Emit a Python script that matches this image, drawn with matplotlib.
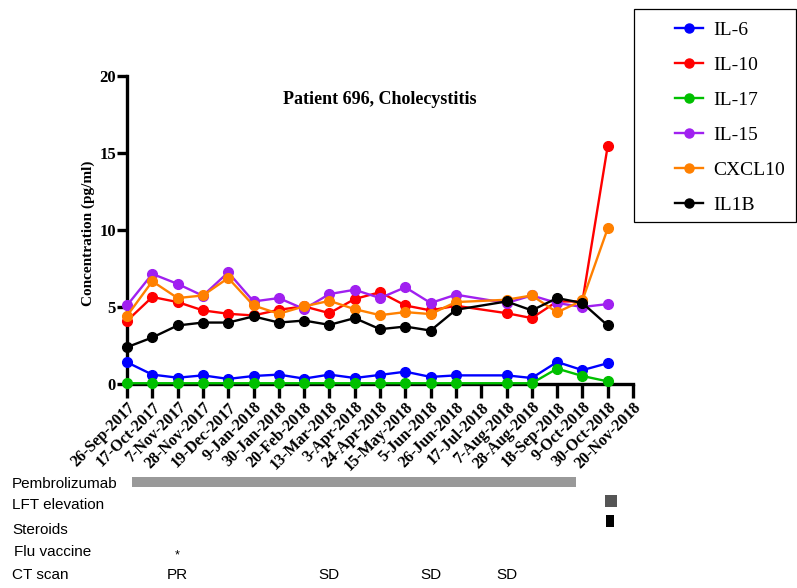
import matplotlib
matplotlib.use("Agg")
import matplotlib.pyplot as plt
import matplotlib.dates as mdates
from matplotlib.lines import Line2D
from matplotlib.patches import Rectangle
from matplotlib.transforms import blended_transform_factory
import pandas as pd

# ---------------- data ----------------
sample_dates = ['2017-09-26', '2017-10-17', '2017-11-07', '2017-11-28', '2017-12-19',
                '2018-01-09', '2018-01-30', '2018-02-20', '2018-03-13', '2018-04-03',
                '2018-04-24', '2018-05-15', '2018-06-05', '2018-06-26', '2018-08-07',
                '2018-08-28', '2018-09-18', '2018-10-09', '2018-10-30']

il6 = [1.41, 0.61, 0.41, 0.56, 0.33, 0.52, 0.61, 0.35, 0.61, 0.39,
       0.59, 0.80, 0.46, 0.56, 0.56, 0.39, 1.43, 0.90, 1.35]
il10 = [4.10, 5.65, 5.32, 4.78, 4.56, 4.45, 4.82, 5.04, 4.60, 5.52,
        5.96, 5.10, 4.78, 5.08, 4.60, 4.28, 5.36, 5.36, 15.45]
il17 = [0.05, 0.05, 0.05, 0.05, 0.05, 0.05, 0.05, 0.05, 0.05, 0.05,
        0.05, 0.05, 0.05, 0.05, 0.05, 0.05, 1.00, 0.52, 0.17]
il15 = [5.10, 7.15, 6.50, 5.73, 7.25, 5.36, 5.58, 4.87, 5.84, 6.12,
        5.58, 6.28, 5.26, 5.80, 5.26, 5.75, 5.26, 5.00, 5.19]
cxcl10 = [4.42, 6.67, 5.58, 5.75, 6.88, 5.10, 4.56, 5.04, 5.40, 4.86,
          4.47, 4.67, 4.54, 5.32, 5.47, 5.75, 4.65, 5.43, 10.10]
il1b = [2.39, 3.02, 3.80, 3.99, 3.99, 4.39, 3.99, 4.12, 3.84, 4.28,
        3.56, 3.73, 3.47, 4.82, 5.36, 4.78, 5.58, 5.26, 3.80]

series_names = ['IL-6', 'IL-10', 'IL-17', 'IL-15', 'CXCL10', 'IL1B']
series_values = [il6, il10, il17, il15, cxcl10, il1b]
series_colors = ['#0000FF', '#FF0000', '#00C000', '#A020F0', '#FF8000', '#000000']

tick_dates = ['2017-09-26', '2017-10-17', '2017-11-07', '2017-11-28', '2017-12-19',
              '2018-01-09', '2018-01-30', '2018-02-20', '2018-03-13', '2018-04-03',
              '2018-04-24', '2018-05-15', '2018-06-05', '2018-06-26', '2018-07-17',
              '2018-08-07', '2018-08-28', '2018-09-18', '2018-10-09', '2018-10-30',
              '2018-11-20']
tick_labels = ['26-Sep-2017', '17-Oct-2017', '7-Nov-2017', '28-Nov-2017', '19-Dec-2017',
               '9-Jan-2018', '30-Jan-2018', '20-Feb-2018', '13-Mar-2018', '3-Apr-2018',
               '24-Apr-2018', '15-May-2018', '5-Jun-2018', '26-Jun-2018', '17-Jul-2018',
               '7-Aug-2018', '28-Aug-2018', '18-Sep-2018', '9-Oct-2018', '30-Oct-2018',
               '20-Nov-2018']
y_ticks = [0, 5, 10, 15, 20]

# timeline events
pembro_start, pembro_end = '2017-09-30', '2018-10-04'
lft_start, lft_end = '2018-10-28', '2018-11-07'
steroid_start, steroid_end = '2018-10-29', '2018-11-04'
flu_dates = ['2017-11-07']
ct_dates = ['2017-11-07', '2018-03-13', '2018-06-05', '2018-08-07']
ct_results = ['PR', 'SD', 'SD', 'SD']
row_labels = ['Pembrolizumab', 'LFT elevation', 'Steroids', 'Flu vaccine', 'CT scan']

# ---------------- figure ----------------
W, H = 797, 588
fig = plt.figure(figsize=(W / 100, H / 100), dpi=100)

def fx(px):
    return px / W

def fy(py):
    return 1 - py / H

ax_l, ax_r, ax_t, ax_b = 127, 633, 76, 384
ax = fig.add_axes([fx(ax_l), fy(ax_b), fx(ax_r - ax_l), (ax_b - ax_t) / H])

serif = 'Liberation Serif'
sans = 'Liberation Sans'

x = pd.to_datetime(sample_dates)
order = [5, 4, 3, 2, 0, 1]  # drawing order (IL1B first, IL-10 last)
for k in order:
    ax.plot(x, series_values[k], color=series_colors[k], lw=1.7, marker='o',
            markersize=7, clip_on=False, zorder=3 + k * 0.1)

tdates = pd.to_datetime(tick_dates)
ax.set_xlim(tdates[0], tdates[-1])
ax.set_ylim(0, 20)
ax.set_xticks(tdates)
ax.set_xticklabels(tick_labels, rotation=45, ha='right', va='top',
                   rotation_mode='anchor', fontfamily=serif, fontweight='bold',
                   fontsize=11.5)
ax.set_yticks(y_ticks)
ax.set_yticklabels([str(v) for v in y_ticks], fontfamily=serif,
                   fontweight='bold', fontsize=12)
ax.tick_params(axis='x', length=10, width=2.4, pad=1)
ax.tick_params(axis='y', length=7, width=2.4, pad=1)
for s in ['top', 'right']:
    ax.spines[s].set_visible(False)
for s in ['left', 'bottom']:
    ax.spines[s].set_linewidth(2.4)

ax.set_ylabel('Concentration (pg/ml)', fontfamily=serif, fontweight='bold',
              fontsize=11)
ax.yaxis.set_label_coords((95 - ax_l) / (ax_r - ax_l), 0.49)

ax.text(0.5, (ax_b - 100) / (ax_b - ax_t), 'Patient 696, Cholecystitis',
        transform=ax.transAxes, ha='center', va='center', fontfamily=serif,
        fontweight='bold', fontsize=13)

# legend with manual frame
fig.patches.append(Rectangle((fx(634), fy(222)), fx(796 - 634), (222 - 9) / H,
                             transform=fig.transFigure, fill=False,
                             edgecolor='black', lw=0.9))
handles = [Line2D([], [], color=c, lw=1.7, marker='o', markersize=6.5)
           for c in series_colors]
fig.legend(handles, series_names, loc='upper left',
           bbox_to_anchor=(fx(675), fy(21)), frameon=False, borderpad=0,
           borderaxespad=0, handlelength=1.45, handletextpad=0.5,
           labelspacing=0.9, prop={'family': serif, 'size': 14})

# ---------------- timeline ----------------
tl_top = 465
tl = fig.add_axes([fx(ax_l), 0, fx(ax_r - ax_l), (H - tl_top) / H])
tl.set_xlim(ax.get_xlim())
tl.set_ylim(H, tl_top)
tl.axis('off')

def dn(d):
    return mdates.date2num(pd.Timestamp(d))

tl.barh(482, dn(pembro_end) - dn(pembro_start), left=dn(pembro_start),
        height=9.5, color='#999999')
tl.barh(501, dn(lft_end) - dn(lft_start), left=dn(lft_start),
        height=12, color='#555555')
tl.barh(521, dn(steroid_end) - dn(steroid_start), left=dn(steroid_start),
        height=12, color='#000000')

row_baselines = [488, 509, 534, 556.5, 579]
row_x = [12, 12, 12, 14, 12]
lab_tr = blended_transform_factory(fig.transFigure, tl.transData)
for lab, yb, xp in zip(row_labels, row_baselines, row_x):
    tl.text(fx(xp), yb, lab, transform=lab_tr, ha='left', va='baseline',
            fontfamily=sans, fontsize=11)

for d in flu_dates:
    tl.text(dn(d), 558, '*', ha='center', va='baseline', fontfamily=sans,
            fontsize=9)
for d, r in zip(ct_dates, ct_results):
    tl.text(dn(d), 579.5, r, ha='center', va='baseline', fontfamily=sans,
            fontsize=11)

fig.savefig('out.png', dpi=100)
